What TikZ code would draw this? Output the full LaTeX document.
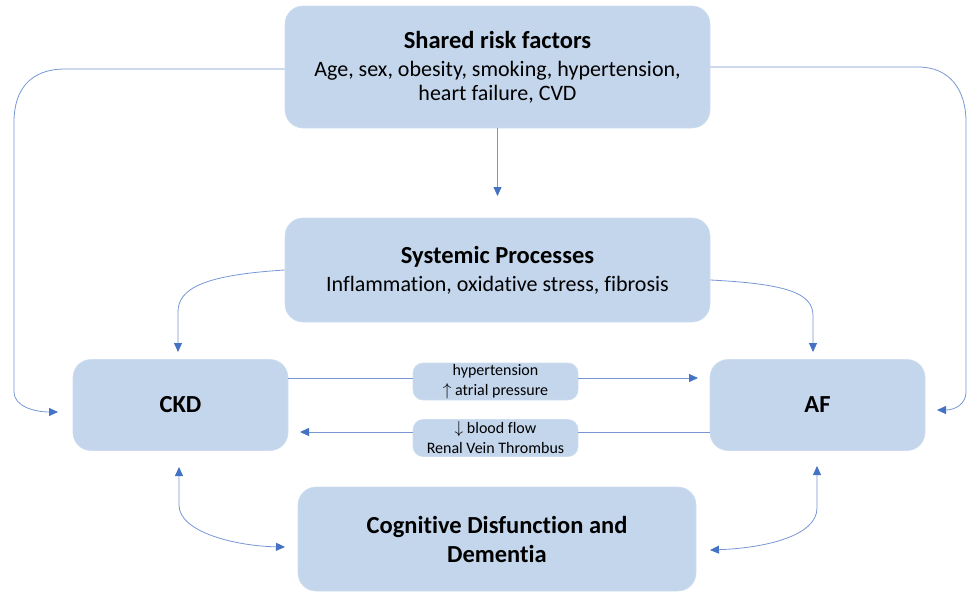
\documentclass[tikz,border=0pt]{standalone}
\usepackage{fontspec}
\setmainfont{Carlito}[Ligatures=NoCommon]
\usetikzlibrary{arrows.meta}
\definecolor{boxfill}{RGB}{196,214,236}
\definecolor{boxline}{RGB}{206,222,240}
\definecolor{linecol}{RGB}{120,150,212}
\definecolor{tipcol}{RGB}{68,114,196}
\newcommand{\ttlfont}{\fontsize{24.5}{28}\selectfont\bfseries}
\tikzset{
  bigbox/.style={fill=boxfill, draw=boxline, line width=0.6pt, rounded corners=18pt, align=center, inner sep=0pt, font=\fontsize{22}{24}\selectfont},
  labbox/.style={fill=boxfill, draw=boxline, line width=0.6pt, rounded corners=10pt, align=center, inner sep=0pt, minimum width=165pt, minimum height=37pt, font=\fontsize{16}{20}\selectfont},
  conn/.style={draw=linecol, line width=0.8pt},
  tip/.tip={Triangle[length=9pt,width=8pt,color=tipcol,fill=tipcol]},
}
\begin{document}
\begin{tikzpicture}[x=1pt,y=-1pt]
\useasboundingbox (0,0) rectangle (968,592);
% boxes
\node[bigbox, minimum width=425pt, minimum height=122pt] (top) at (497.5,67)
  {\ttlfont Shared risk factors\\[4pt]
   Age, sex, obesity, smoking, hypertension,\\ heart failure, CVD};
\node[bigbox, minimum width=425pt, minimum height=104pt] (sys) at (497.5,270)
  {\ttlfont Systemic Processes\\[4pt]
   Inflammation, oxidative stress, fibrosis};
\node[bigbox, minimum width=215pt, minimum height=91pt] (ckd) at (180.5,405)
  {\ttlfont CKD};
\node[bigbox, minimum width=215pt, minimum height=91pt] (af) at (817.5,405)
  {\ttlfont AF};
\node[bigbox, minimum width=398pt, minimum height=104pt, font=\fontsize{24.5}{29}\selectfont\bfseries] (cog) at (497,539)
  {Cognitive Disfunction and\\ Dementia};
\node[labbox] (lab1) at (495.5,381.5) {hypertension\\ $\uparrow$ atrial pressure};
\node[labbox] (lab2) at (495.5,438) {$\downarrow$ blood flow\\ Renal Vein Thrombus};
% free ends
\coordinate (topsys) at (497.5,196);
\coordinate (ckdL) at (58,412);
\coordinate (afR) at (937,410);
\coordinate (ckdT) at (178,352);
\coordinate (afT) at (813,352);
\coordinate (afW) at (698,378);
\coordinate (ckdE) at (300,432);
\coordinate (ckdB) at (179,467);
\coordinate (cogL) at (285,547);
\coordinate (afB) at (817,466);
\coordinate (cogR) at (710,550);
% connectors
\draw[conn,-tip] (top.south) -- (topsys);
\draw[conn,-tip] ([yshift=-2pt]top.west) -- (65,69) .. controls (30,69) and (14,90) .. (14,122)
  -- (14,392) .. controls (14,406) and (34,412) .. (ckdL);
\draw[conn,-tip] (top.east) -- (918,67) .. controls (950,67) and (966,90) .. (966,122)
  -- (966,392) .. controls (966,404) and (955,410) .. (afR);
\draw[conn,-tip] (sys.west) .. controls (205,275) and (178,288) .. (178,312) -- (ckdT);
\draw[conn,-tip] ([yshift=-10pt]sys.east) .. controls (790,284) and (813,294) .. (813,316) -- (afT);
\draw[conn] ([yshift=3.5pt]lab1.west -| ckd.east) -- ([yshift=3.5pt]lab1.west);
\draw[conn,-tip] ([yshift=3.5pt]lab1.east) -- (afW);
\draw[conn] ([yshift=6pt]lab2.east -| af.west) -- ([yshift=6pt]lab2.east);
\draw[conn,-tip] ([yshift=6pt]lab2.west) -- (ckdE);
\draw[conn,tip-tip] (ckdB) -- (179,505) .. controls (179,532) and (235,546) .. (cogL);
\draw[conn,tip-tip] (afB) -- (817,508) .. controls (817,536) and (765,548) .. (cogR);
\end{tikzpicture}
\end{document}
